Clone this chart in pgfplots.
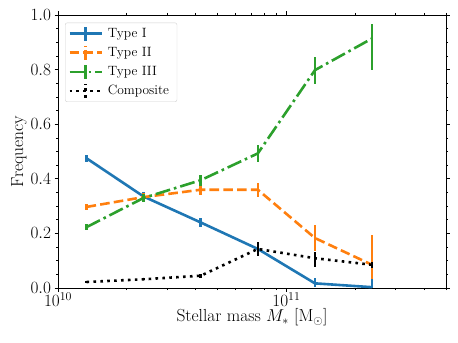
\documentclass[border=0pt]{standalone}
\usepackage{fontspec}
\usepackage{pgfplots}
\pgfplotsset{compat=1.18}
\usepackage{pgfplotstable}

\definecolor{tblue}{HTML}{1F77B4}
\definecolor{torange}{HTML}{FF7F0E}
\definecolor{tgreen}{HTML}{2CA02C}

\pgfplotstableread{
x y ep em
1.3335e10 0.475 0.012 0.012
2.3714e10 0.335 0.015 0.015
4.2170e10 0.240 0.015 0.015
7.4989e10 0.143 0.020 0.020
1.3335e11 0.017 0.020 0.015
2.3714e11 0.003 0.030 0.003
}\typeI
\pgfplotstableread{
x y ep em
1.3335e10 0.297 0.012 0.012
2.3714e10 0.333 0.015 0.015
4.2170e10 0.360 0.020 0.020
7.4989e10 0.360 0.025 0.025
1.3335e11 0.183 0.048 0.048
2.3714e11 0.085 0.110 0.053
}\typeII
\pgfplotstableread{
x y ep em
1.3335e10 0.223 0.012 0.012
2.3714e10 0.330 0.015 0.015
4.2170e10 0.395 0.020 0.020
7.4989e10 0.493 0.030 0.030
1.3335e11 0.798 0.049 0.052
2.3714e11 0.914 0.053 0.116
}\typeIII
\pgfplotstableread{
x y ep em
1.3335e10 0.022 0.004 0.004
2.3714e10 0.032 0.004 0.004
4.2170e10 0.045 0.008 0.008
7.4989e10 0.143 0.026 0.025
1.3335e11 0.109 0.024 0.032
2.3714e11 0.085 0.010 0.010
}\composite

\begin{document}
\begin{tikzpicture}
\begin{axis}[
  scale only axis,
  width=388bp, height=273bp,
  xmode=log,
  xmin=1e10, xmax=5e11,
  ymin=0, ymax=1,
  xtick={1e10,1e11},
  xticklabels={$10^{10}$,$10^{11}$},
  minor xtick={2e10,3e10,4e10,5e10,6e10,7e10,8e10,9e10,2e11,3e11,4e11,5e11},
  ytick={0,0.2,0.4,0.6,0.8,1.0},
  minor y tick num=3,
  yticklabel style={/pgf/number format/.cd, fixed, fixed zerofill, precision=1},
  tick align=outside,
  major tick length=3.5bp,
  minor tick length=2bp,
  tick style={black, line width=0.6bp},
  axis line style={line width=0.8bp},
  tick label style={font=\fontsize{17.5}{20}\selectfont},
  xticklabel style={yshift=2bp},
  label style={font=\fontsize{17.5}{20}\selectfont},
  xlabel={Stellar mass $M_*$ [M$_\odot$]},
  ylabel={Frequency},
  xlabel style={yshift=5bp},
  ylabel style={yshift=-3bp},
  legend cell align=left,
  legend style={at={(0.018,0.972)}, anchor=north west, draw=black!18, rounded corners=2bp,
    fill=white, row sep=2.5bp, inner xsep=3bp, inner ysep=2.5bp,
    nodes={font=\fontsize{13.5}{16}\selectfont, inner xsep=5bp}},
  every axis plot/.append style={line width=2.6bp},
  error bars/y dir=both,
  error bars/y explicit,
  error bars/error mark=none,
  error bars/error bar style={line width=2.6bp, solid},
]
\addplot[tblue, solid, no marks,
  legend image code/.code={\draw[tblue, line width=2.6bp] (0bp,0bp) -- (32bp,0bp); \draw[tblue, line width=2.6bp] (16bp,-7bp) -- (16bp,7bp);}]
  table[x=x, y=y, y error plus=ep, y error minus=em] {\typeI};
\addlegendentry{Type I}
\addplot[torange, dash pattern=on 9.6bp off 4.2bp, no marks,
  legend image code/.code={\draw[torange, line width=2.6bp, dash pattern=on 9.6bp off 4.2bp] (0bp,0bp) -- (32bp,0bp); \draw[torange, line width=2.6bp] (16bp,-7bp) -- (16bp,7bp);}]
  table[x=x, y=y, y error plus=ep, y error minus=em] {\typeII};
\addlegendentry{Type II}
\addplot[tgreen, dash pattern=on 15bp off 4bp on 2.6bp off 4bp, no marks,
  legend image code/.code={\draw[tgreen, line width=2.6bp, dash pattern=on 15bp off 4bp on 2.6bp off 4bp] (0bp,0bp) -- (32bp,0bp); \draw[tgreen, line width=2.6bp] (16bp,-7bp) -- (16bp,7bp);}]
  table[x=x, y=y, y error plus=ep, y error minus=em] {\typeIII};
\addlegendentry{Type III}
\addplot[black, dash pattern=on 2.6bp off 4.3bp, no marks,
  legend image code/.code={\draw[black, line width=2.6bp, dash pattern=on 2.6bp off 4.3bp] (0bp,0bp) -- (32bp,0bp); \draw[black, line width=2.6bp] (16bp,-7bp) -- (16bp,7bp);}]
  table[x=x, y=y, y error plus=ep, y error minus=em] {\composite};
\addlegendentry{Composite}
\end{axis}
\pgfresetboundingbox
\path ([shift={(-58bp,-55bp)}]current axis.south west) rectangle ([shift={(12bp,15bp)}]current axis.north east);
\end{tikzpicture}
\end{document}
